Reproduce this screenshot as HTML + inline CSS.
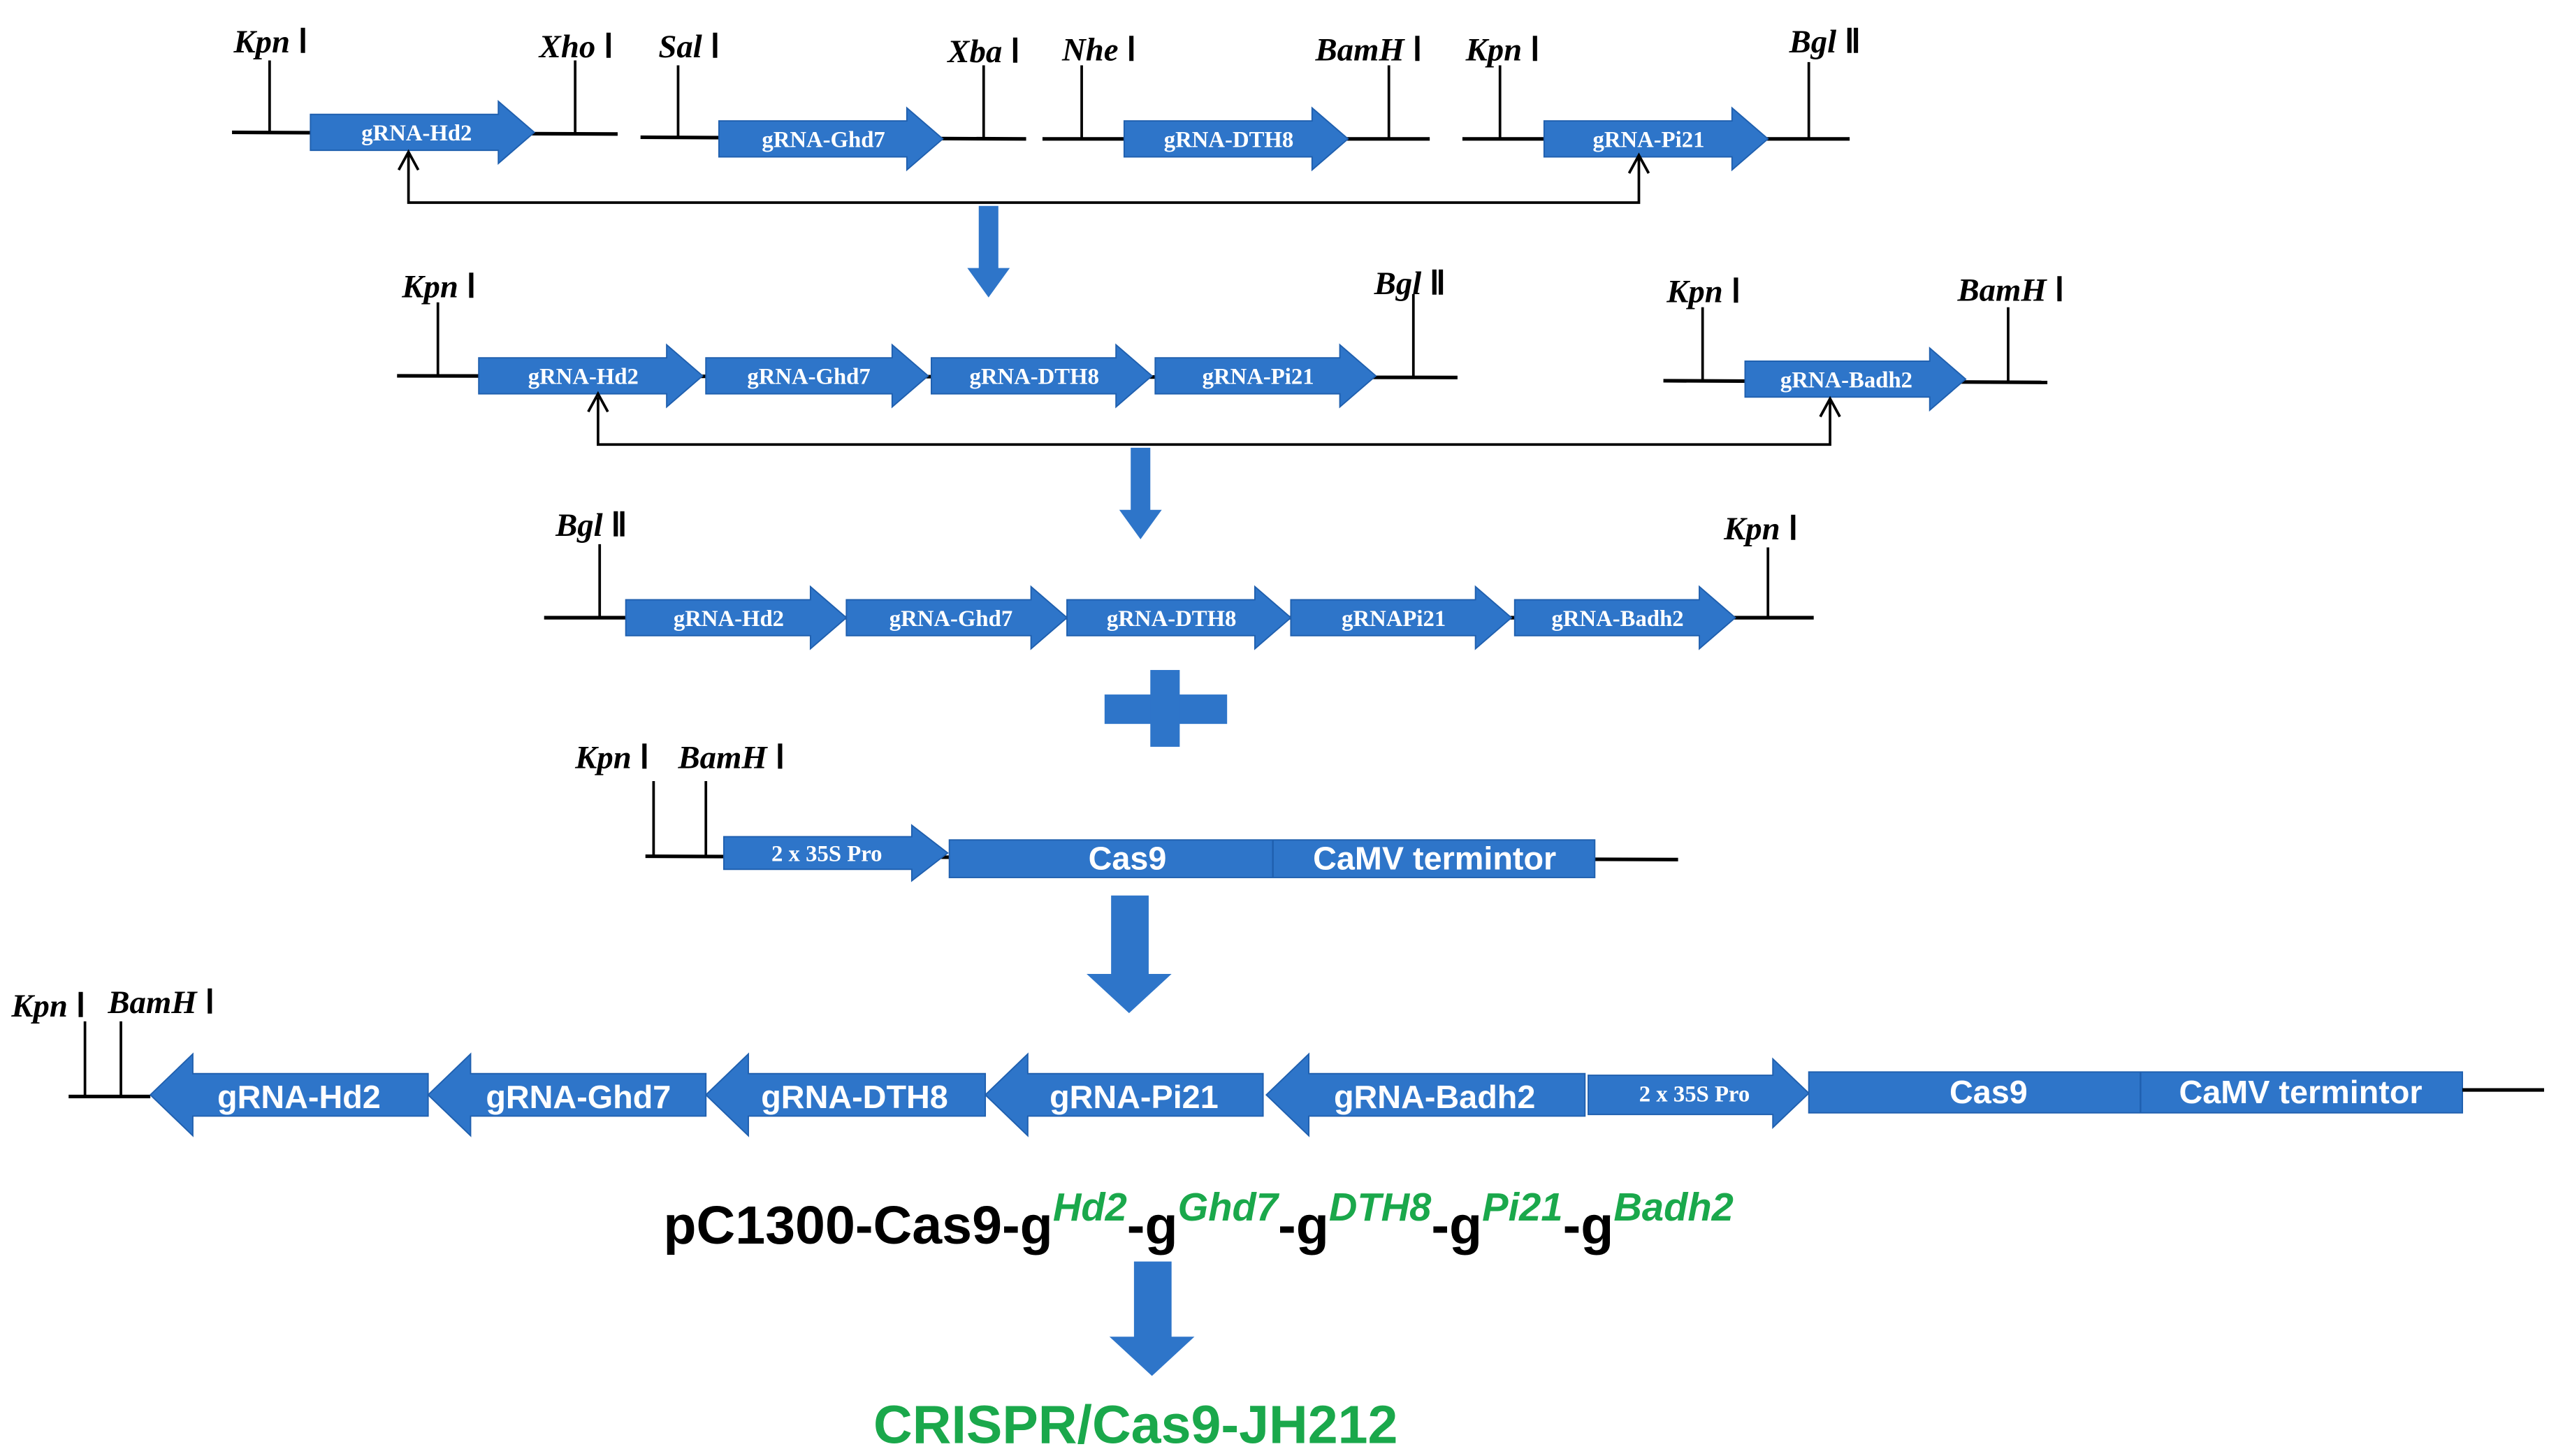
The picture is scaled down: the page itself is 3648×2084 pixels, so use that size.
<!DOCTYPE html>
<html><head><meta charset="utf-8"><style>
html,body{margin:0;padding:0;background:#fff;}
svg{display:block;}
.l{stroke:#000;stroke-width:2.2;fill:none;}
.t{stroke:#000;stroke-width:1.6;fill:none;}
.b{fill:#2e75c9;stroke:#1f5fae;stroke-width:0.8;}
.s{font-family:"Liberation Serif",serif;font-weight:bold;fill:#fff;font-size:14px;text-anchor:middle;}
.r{font-family:"Liberation Serif",serif;font-weight:bold;font-style:italic;fill:#000;font-size:20px;}
.r tspan{font-style:normal;}
.w{font-family:"Liberation Sans",sans-serif;font-weight:bold;fill:#fff;font-size:20px;text-anchor:middle;}
</style></head><body>
<svg width="3648" height="2084" viewBox="0 0 1560 891" preserveAspectRatio="none" xmlns="http://www.w3.org/2000/svg">
<!-- Row 1 -->
<line class="l" x1="142" y1="81" x2="378" y2="82"/>
<line class="t" x1="165" y1="37" x2="165" y2="81"/>
<line class="t" x1="352" y1="37" x2="352" y2="82"/>
<path class="b" d="M190 70 L305 70 L305 62 L327 81 L305 100 L305 92 L190 92 Z"/>
<text class="s" x="255" y="86">gRNA-Hd2</text>
<text class="r" x="143" y="32">Kpn <tspan>Ⅰ</tspan></text>
<text class="r" x="330" y="35">Xho <tspan>Ⅰ</tspan></text>

<line class="l" x1="392" y1="84" x2="628" y2="85"/>
<line class="t" x1="415" y1="40" x2="415" y2="84"/>
<line class="t" x1="602" y1="40" x2="602" y2="85"/>
<path class="b" d="M440 74 L555 74 L555 66 L577 85 L555 104 L555 96 L440 96 Z"/>
<text class="s" x="504" y="90">gRNA-Ghd7</text>
<text class="r" x="403" y="35">Sal <tspan>Ⅰ</tspan></text>
<text class="r" x="580" y="38">Xba <tspan>Ⅰ</tspan></text>

<line class="l" x1="638" y1="85" x2="875" y2="85"/>
<line class="t" x1="662" y1="40" x2="662" y2="85"/>
<line class="t" x1="850" y1="40" x2="850" y2="85"/>
<path class="b" d="M688 74 L803 74 L803 66 L825 85 L803 104 L803 96 L688 96 Z"/>
<text class="s" x="752" y="90">gRNA-DTH8</text>
<text class="r" x="650" y="37">Nhe <tspan>Ⅰ</tspan></text>
<text class="r" x="805" y="37">BamH <tspan>Ⅰ</tspan></text>

<line class="l" x1="895" y1="85" x2="1132" y2="85"/>
<line class="t" x1="918" y1="40" x2="918" y2="85"/>
<line class="t" x1="1107" y1="38" x2="1107" y2="85"/>
<path class="b" d="M945 74 L1060 74 L1060 66 L1082 85 L1060 104 L1060 96 L945 96 Z"/>
<text class="s" x="1009" y="90">gRNA-Pi21</text>
<text class="r" x="897" y="37">Kpn <tspan>Ⅰ</tspan></text>
<text class="r" x="1095" y="32">Bgl <tspan>Ⅱ</tspan></text>

<path class="t" d="M250 94 L250 124 L1003 124 L1003 96"/>
<path class="t" d="M244 104 L250 93 L256 104"/>
<path class="t" d="M997 106 L1003 95 L1009 106"/>
<path fill="#2e75c9" d="M599 126 L611 126 L611 164 L618 164 L605 182 L592 164 L599 164 Z"/>

<!-- Row 2 -->
<line class="l" x1="243" y1="230" x2="892" y2="231"/>
<line class="t" x1="268" y1="185" x2="268" y2="230"/>
<line class="t" x1="865" y1="180" x2="865" y2="231"/>
<path class="b" d="M293 219 L408 219 L408 211 L430 230 L408 249 L408 241 L293 241 Z"/>
<path class="b" d="M432 219 L546 219 L546 211 L568 230 L546 249 L546 241 L432 241 Z"/>
<path class="b" d="M570 219 L683 219 L683 211 L705 230 L683 249 L683 241 L570 241 Z"/>
<path class="b" d="M707 219 L820 219 L820 211 L842 230 L820 249 L820 241 L707 241 Z"/>
<text class="s" x="357" y="235">gRNA-Hd2</text>
<text class="s" x="495" y="235">gRNA-Ghd7</text>
<text class="s" x="633" y="235">gRNA-DTH8</text>
<text class="s" x="770" y="235">gRNA-Pi21</text>
<text class="r" x="246" y="182">Kpn <tspan>Ⅰ</tspan></text>
<text class="r" x="841" y="180">Bgl <tspan>Ⅱ</tspan></text>

<line class="l" x1="1018" y1="233" x2="1253" y2="234"/>
<line class="t" x1="1042" y1="188" x2="1042" y2="233"/>
<line class="t" x1="1229" y1="188" x2="1229" y2="234"/>
<path class="b" d="M1068 221 L1181 221 L1181 213 L1203 232 L1181 251 L1181 243 L1068 243 Z"/>
<text class="s" x="1130" y="237">gRNA-Badh2</text>
<text class="r" x="1020" y="185">Kpn <tspan>Ⅰ</tspan></text>
<text class="r" x="1198" y="184">BamH <tspan>Ⅰ</tspan></text>

<path class="t" d="M366 243 L366 272 L1120 272 L1120 245"/>
<path class="t" d="M360 252 L366 241 L372 252"/>
<path class="t" d="M1114 255 L1120 244 L1126 255"/>
<path fill="#2e75c9" d="M692 274 L704 274 L704 312 L711 312 L698 330 L685 312 L692 312 Z"/>

<!-- Row 3 -->
<line class="l" x1="333" y1="378" x2="1110" y2="378"/>
<line class="t" x1="367" y1="333" x2="367" y2="378"/>
<line class="t" x1="1082" y1="335" x2="1082" y2="378"/>
<path class="b" d="M383 367 L496 367 L496 359 L518 378 L496 397 L496 389 L383 389 Z"/>
<path class="b" d="M518 367 L631 367 L631 359 L653 378 L631 397 L631 389 L518 389 Z"/>
<path class="b" d="M653 367 L768 367 L768 359 L790 378 L768 397 L768 389 L653 389 Z"/>
<path class="b" d="M790 367 L903 367 L903 359 L925 378 L903 397 L903 389 L790 389 Z"/>
<path class="b" d="M927 367 L1040 367 L1040 359 L1062 378 L1040 397 L1040 389 L927 389 Z"/>
<text class="s" x="446" y="383">gRNA-Hd2</text>
<text class="s" x="582" y="383">gRNA-Ghd7</text>
<text class="s" x="717" y="383">gRNA-DTH8</text>
<text class="s" x="853" y="383">gRNAPi21</text>
<text class="s" x="990" y="383">gRNA-Badh2</text>
<text class="r" x="340" y="328">Bgl <tspan>Ⅱ</tspan></text>
<text class="r" x="1055" y="330">Kpn <tspan>Ⅰ</tspan></text>

<!-- plus -->
<rect x="676" y="425" width="75" height="18" fill="#2e75c9"/>
<rect x="704" y="410" width="18" height="47" fill="#2e75c9"/>

<!-- Row 4 -->
<line class="l" x1="395" y1="524" x2="1027" y2="526"/>
<line class="t" x1="400" y1="478" x2="400" y2="524"/>
<line class="t" x1="432" y1="478" x2="432" y2="524"/>
<text class="r" x="352" y="470">Kpn <tspan>Ⅰ</tspan></text>
<text class="r" x="415" y="470">BamH <tspan>Ⅰ</tspan></text>
<path class="b" d="M443 512 L558 512 L558 505 L580 522 L558 539 L558 532 L443 532 Z"/>
<text class="s" x="506" y="527">2 x 35S Pro</text>
<rect class="b" x="581" y="514" width="395" height="23"/>
<line x1="779" y1="514" x2="779" y2="537" stroke="#1f5fae" stroke-width="1"/>
<text class="w" x="690" y="532">Cas9</text>
<text class="w" x="878" y="532">CaMV termintor</text>
<path fill="#2e75c9" d="M680 548 L703 548 L703 596 L717 596 L691 620 L665 596 L680 596 Z"/>

<!-- Row 5 -->
<line class="l" x1="42" y1="671" x2="92" y2="671"/>
<line class="t" x1="52" y1="625" x2="52" y2="671"/>
<line class="t" x1="74" y1="625" x2="74" y2="671"/>
<text class="r" x="7" y="622">Kpn <tspan>Ⅰ</tspan></text>
<text class="r" x="66" y="620">BamH <tspan>Ⅰ</tspan></text>
<path class="b" d="M262 657 L118 657 L118 645 L92 670 L118 695 L118 683 L262 683 Z"/>
<path class="b" d="M432 657 L288 657 L288 645 L262 670 L288 695 L288 683 L432 683 Z"/>
<path class="b" d="M603 657 L458 657 L458 645 L432 670 L458 695 L458 683 L603 683 Z"/>
<path class="b" d="M773 657 L629 657 L629 645 L603 670 L629 695 L629 683 L773 683 Z"/>
<path class="b" d="M970 657 L801 657 L801 645 L775 670 L801 695 L801 683 L970 683 Z"/>
<text class="w" x="183" y="678">gRNA-Hd2</text>
<text class="w" x="354" y="678">gRNA-Ghd7</text>
<text class="w" x="523" y="678">gRNA-DTH8</text>
<text class="w" x="694" y="678">gRNA-Pi21</text>
<text class="w" x="878" y="678">gRNA-Badh2</text>
<path class="b" d="M972 658 L1085 658 L1085 648 L1107 669 L1085 690 L1085 682 L972 682 Z"/>
<text class="s" x="1037" y="674">2 x 35S Pro</text>
<rect class="b" x="1107" y="656" width="400" height="25"/>
<line x1="1310" y1="656" x2="1310" y2="681" stroke="#1f5fae" stroke-width="1"/>
<text class="w" x="1217" y="675">Cas9</text>
<text class="w" x="1408" y="675">CaMV termintor</text>
<line class="l" x1="1507" y1="667" x2="1557" y2="667"/>

<!-- bottom text -->
<text x="406" y="761" font-family="Liberation Sans,sans-serif" font-weight="bold" font-size="33" fill="#000">pC1300-Cas9-g<tspan fill="#1aa84b" font-style="italic" font-size="24" dy="-14">Hd2</tspan><tspan dy="14">-g</tspan><tspan fill="#1aa84b" font-style="italic" font-size="24" dy="-14">Ghd7</tspan><tspan dy="14">-g</tspan><tspan fill="#1aa84b" font-style="italic" font-size="24" dy="-14">DTH8</tspan><tspan dy="14">-g</tspan><tspan fill="#1aa84b" font-style="italic" font-size="24" dy="-14">Pi21</tspan><tspan dy="14">-g</tspan><tspan fill="#1aa84b" font-style="italic" font-size="24" dy="-14">Badh2</tspan></text>
<path fill="#2e75c9" d="M694 772 L717 772 L717 818 L731 818 L705 842 L679 818 L694 818 Z"/>
<text x="695" y="883" text-anchor="middle" font-family="Liberation Sans,sans-serif" font-weight="bold" font-size="33" fill="#1aa84b">CRISPR/Cas9-JH212</text>
</svg>
</body></html>
